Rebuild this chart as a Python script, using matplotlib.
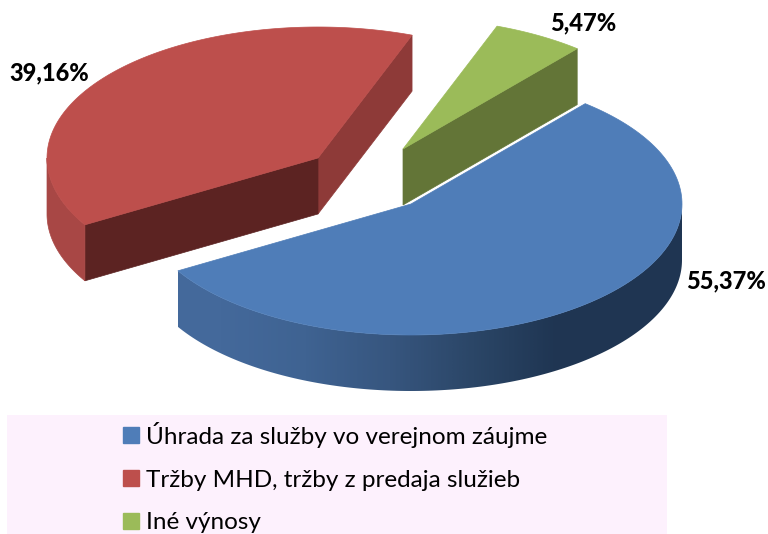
#!/usr/bin/env python3
import numpy as np
from matplotlib import pyplot as plt
from matplotlib.colors import LinearSegmentedColormap
from matplotlib.patches import Polygon, Patch, Rectangle

OUT = 'out.png'

names = ['Úhrada za služby vo verejnom záujme', 'Tržby MHD, tržby z predaja služieb', 'Iné výnosy']
shares = [55.37, 39.16, 5.47]
start_angle = 40.0

top_colors = ['#4f7db8', '#bd4f4c', '#9bbb59']
last_cut_colors = [None, '#8e3a38', '#637537']
first_cut_colors = [None, '#5c2322', None]
rim_colors = [None, '#a84745', None]

# apex of every slice in picture pixels, they are pulled apart
apex_x = [411, 318, 403]
apex_y = [204, 158, 149]
label_x = [726, 49, 583]
label_y = [281, 73, 23]

RX, RY = 271, 131
DEPTH = 56


def rim(cx, cy, a0, a1, n=160):
    # angle in degrees, clockwise from the top of the pie
    t = np.radians(np.linspace(a0, a1, n))
    return np.column_stack([cx + RX * np.sin(t), cy - RY * np.cos(t)])


def side(cx, cy, a0, a1):
    # wall under the outer edge between two angles
    edge = rim(cx, cy, a0, a1)
    return np.vstack([edge, edge[::-1] + [0, DEPTH]])


def wall(p, q):
    return [p, q, (q[0], q[1] + DEPTH), (p[0], p[1] + DEPTH)]


fig = plt.figure(figsize=(7.68, 5.34), dpi=100)
ax = fig.add_axes([0, 0, 1, 1])
ax.axis('off')

ends = start_angle + np.cumsum(shares) * 3.6
starts = np.concatenate([[start_angle], ends[:-1]])

# red first, then green, blue goes on top of both
for i in [1, 2, 0]:
    cx, cy = apex_x[i], apex_y[i]
    a0, a1 = starts[i], ends[i]
    c = (cx, cy)
    first = rim(cx, cy, a0, a0, 1)[0]
    last = rim(cx, cy, a1, a1, 1)[0]

    if i == 0:
        # gradient on the front wall of the big slice
        shape = Polygon(side(cx, cy, 90, a1), closed=True, fc='none', ec='none')
        ax.add_patch(shape)
        shade = np.array([[0.0, 0.2, 0.4, 0.6, 0.8, 1.0]])
        wall_map = LinearSegmentedColormap.from_list(
            'wall', ['#44699b', '#3f6392', '#37567f', '#2b4667', '#1f3552', '#1f3552'])
        im = ax.imshow(shade, extent=(178, 685, 400, 200), aspect='auto', cmap=wall_map,
                       interpolation='bilinear', zorder=2)
        im.set_clip_path(shape)
    else:
        ax.add_patch(Polygon(wall(c, last), closed=True, color=last_cut_colors[i], lw=0.5, zorder=2))
        if first_cut_colors[i]:
            ax.add_patch(Polygon(wall(c, first), closed=True, color=first_cut_colors[i], lw=0.5, zorder=2))
        if rim_colors[i]:
            ax.add_patch(Polygon(side(cx, cy, a0, 270), closed=True, color=rim_colors[i], lw=0.5, zorder=2))

    top = np.vstack([[c], rim(cx, cy, a0, a1)])
    ax.add_patch(Polygon(top, closed=True, color=top_colors[i], lw=0.5, zorder=3))

for v, x, y in zip(shares, label_x, label_y):
    ax.text(x, y, f'{v:.2f}%'.replace('.', ','), ha='center', va='center',
            fontsize=17, fontweight='black', family='Lato', color='black', zorder=5)

ax.add_patch(Rectangle((7, 415), 660, 119, fc='#fdf1fd', ec='none', zorder=1))
handles = [Patch(color=c, label=n) for c, n in zip(top_colors, names)]
ax.legend(handles=handles, loc='upper left', bbox_to_anchor=(113 / 768, 1 - 412 / 534),
          frameon=False, prop={'family': 'Lato', 'size': 17.5}, handlelength=0.66, handleheight=0.66,
          handletextpad=0.3, labelspacing=0.9, borderpad=0.4, borderaxespad=0)

ax.set_xlim(0, 768)
ax.set_ylim(534, 0)
fig.savefig(OUT, dpi=100, facecolor='white')
